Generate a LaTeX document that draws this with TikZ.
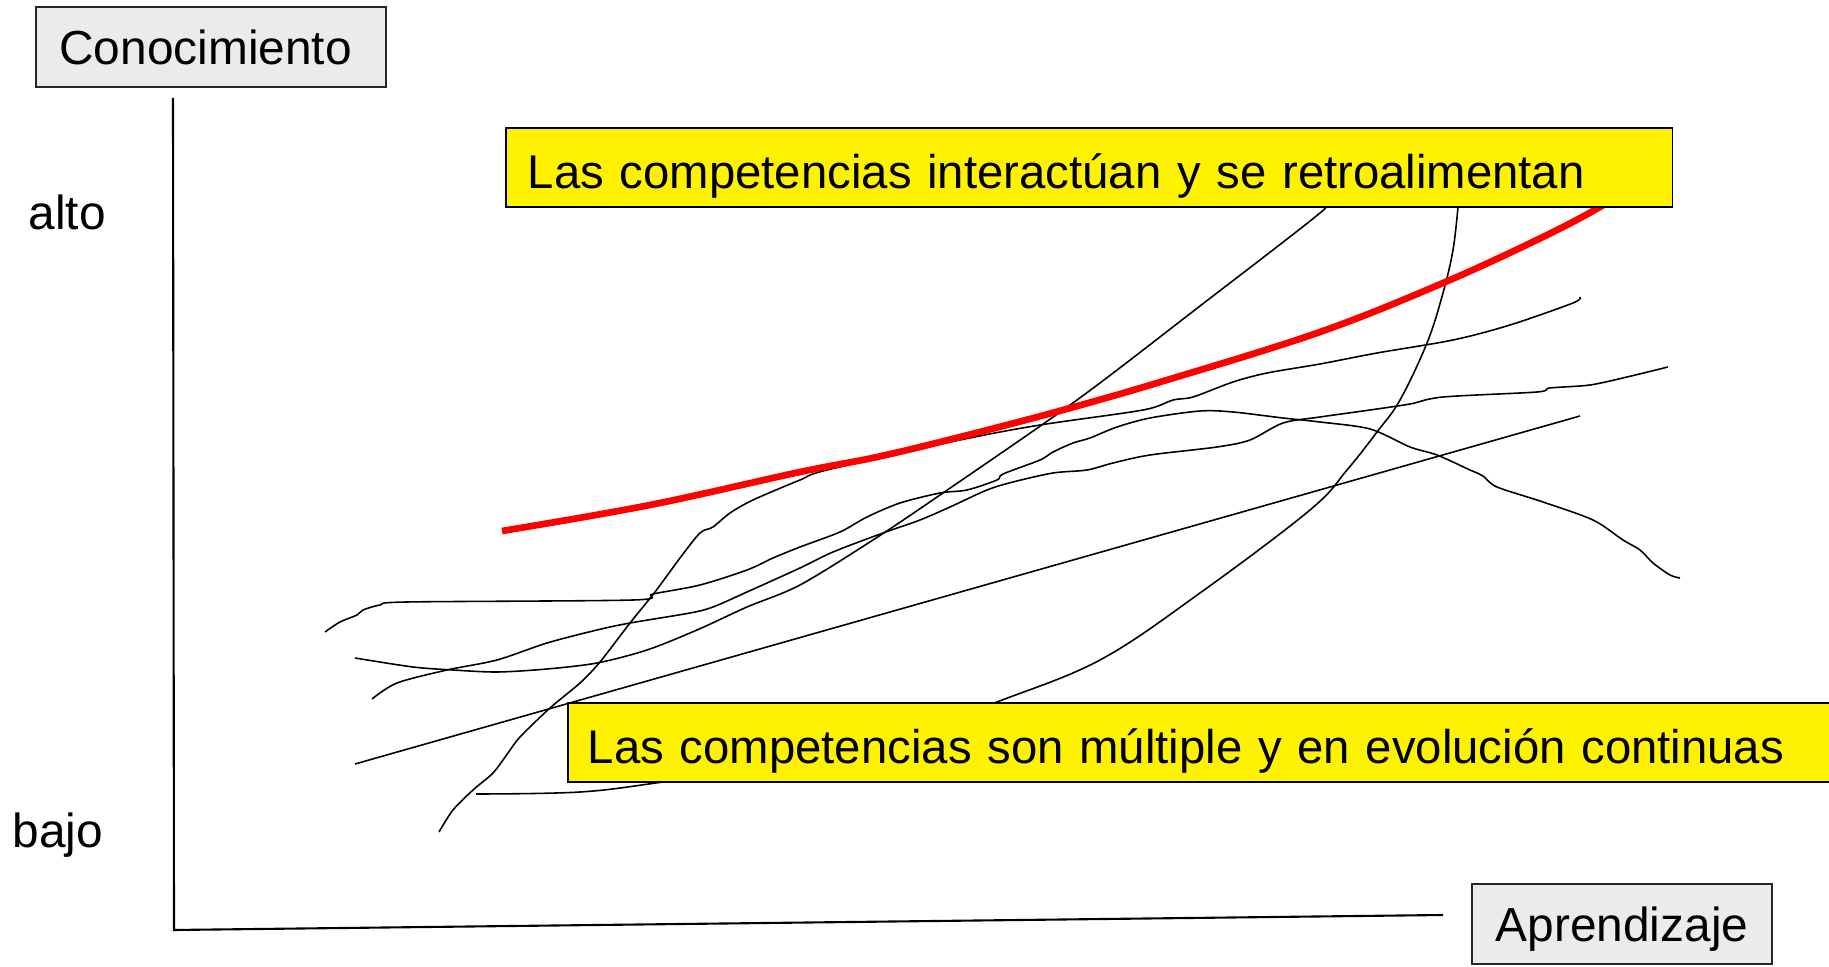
\documentclass[tikz,border=0pt]{standalone}
\usepackage{fontspec}
\setmainfont{Liberation Sans}

\begin{document}
\begin{tikzpicture}[x=0.01cm, y=-0.01cm,
    every node/.style={font=\fontsize{13.6}{16}\selectfont},
    axisbox/.style={draw=black!85, line width=0.6pt, fill=black!8, minimum height=0.8cm, inner sep=0pt},
    notebox/.style={draw, line width=0.5pt, fill=yellow, minimum height=0.79cm, inner ysep=0pt,
        text height=0.51cm, text depth=0.10cm, align=left, anchor=west, font=\fontsize{13.45}{16}\selectfont},
    curve/.style={line width=0.45pt}]
                \useasboundingbox (0,0) rectangle (1829,967);

                % Axes
                \coordinate (ytop) at (173,98);
                \coordinate (origin) at (174,930);
                \coordinate (xend) at (1443,915);
                \draw[line width=0.6pt] (ytop) -- (origin) -- (xend);

                % Curves
                \draw[curve] (355,764) -- (1580,416);
                \draw[curve] plot[smooth, tension=0.6] coordinates {(476,794) (580,792) (663,782) (800,762) (900,738) (997,702) (1100,660) (1200,593) (1310,510) (1347,470) (1377,432) (1400,400) (1427,343) (1443,293) (1453,250) (1458,207)};
                \draw[curve] plot[smooth, tension=0.5] coordinates {(439,832) (453,810) (473,790) (493,773) (508,753) (520,737) (550,708) (580,683) (600,662) (630,623) (655,592) (680,558) (700,533) (713,527) (730,513) (753,500) (800,480) (827,470) (960,440) (1040,425) (1143,410) (1173,400) (1193,397) (1233,382) (1267,373) (1320,364) (1377,353) (1453,340) (1510,325) (1573,303) (1580,297)};
                \draw[curve] plot[smooth, tension=0.5] coordinates {(325,632) (340,622) (357,615) (363,610) (380,605) (407,602) (633,600) (653,594) (700,585) (747,570) (773,558) (800,547) (840,532) (867,517) (900,503) (940,493) (967,490) (997,480) (1003,474) (1040,460) (1053,452) (1073,443) (1090,438) (1117,427) (1150,418) (1200,411) (1233,412) (1283,418) (1320,422) (1370,429) (1410,447) (1437,455) (1470,470) (1483,476) (1497,487) (1543,502) (1593,520) (1623,540) (1640,550) (1653,563) (1670,575) (1680,578)};
                \draw[curve] plot[smooth, tension=0.5] coordinates {(355,658) (413,667) (453,670) (497,672) (547,669) (597,663) (647,650) (697,630) (747,607) (800,585) (873,540) (940,495) (1077,400) (1200,306) (1320,213) (1327,200)};
                \draw[curve] plot[smooth, tension=0.5] coordinates {(372,699) (397,683) (447,670) (497,660) (547,643) (597,630) (630,623) (690,613) (713,607) (747,592) (800,568) (833,552) (883,533) (920,520) (950,507) (987,490) (1013,482) (1053,473) (1087,470) (1113,463) (1150,455) (1217,447) (1250,440) (1283,423) (1320,417) (1370,410) (1410,404) (1443,397) (1537,392) (1550,388) (1590,385) (1627,377) (1668,367)};
                \draw[red, line width=1.9pt] plot[smooth, tension=0.6] coordinates {(502,531) (650,505) (800,472) (877,457) (960,437) (1063,410) (1167,380) (1320,332) (1443,283) (1543,237) (1600,207) (1625,190)};

                % Nodes
                \node[axisbox, minimum width=3.49cm, inner xsep=0.23cm, text width=3.03cm, align=left] (conoc) at (211,47) {Conocimiento};
                \node[axisbox, minimum width=3.0cm, text height=0.45cm, text depth=0.10cm] (aprend) at (1622,924) {Aprendizaje};
                \node[anchor=base west, inner sep=0pt] (alto) at (28,230) {alto};
                \node[anchor=base west, inner sep=0pt] (bajo) at (12,848) {bajo};
                \node[notebox, inner xsep=0.22cm, text width=11.22cm] (interact) at (505,167.5) {Las competencias interactúan y se retroalimentan};
                \node[notebox, inner xsep=0.2cm, text width=12.8cm] (multiple) at (567,742.5) {Las competencias son múltiple y en evolución continuas};
            \end{tikzpicture}
\end{document}
